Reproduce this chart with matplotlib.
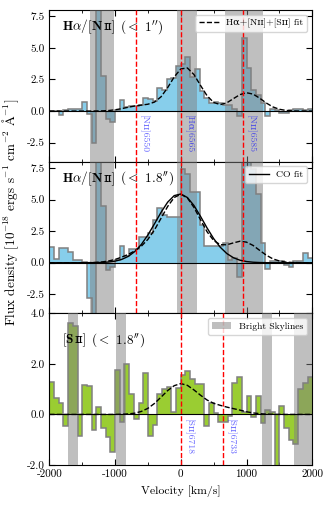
import numpy as np
import matplotlib
matplotlib.use("Agg")
import matplotlib.pyplot as plt
from matplotlib.ticker import MultipleLocator, FormatStrFormatter
from matplotlib.patches import Patch
from matplotlib.lines import Line2D

plt.rcParams['font.family'] = ['cmr10', 'DejaVu Serif', 'DejaVu Sans']
plt.rcParams['mathtext.fontset'] = 'cm'
plt.rcParams['axes.unicode_minus'] = False
plt.rcParams['axes.formatter.use_mathtext'] = True

# ---------------- data ----------------
vel_range = (-2000, 2000)
n_bins = 56

halpha_1arc = [0.02, 0.0, -0.32, 0.05, 0.2, 0.2, 0.15, 0.75, -0.25, -2.54,
               9.0, 2.8, -0.6, -0.85, 0.08, 0.88, 0.35, 0.4, 0.4, 0.45,
               1.0, 0.95, 0.8, 1.8, 1.7, 2.55, 2.6, 3.55, 3.75, 4.3,
               2.7, 3.3, 1.6, 1.0, 0.6, 0.75, 0.6, 0.5, 0.45, 0.15,
               -0.4, 5.8, 3.4, 1.7, 1.3, 0.6, -0.4, 0.15, 0.05, -0.15,
               -0.15, 0.1, 0.2, 0.15, 0.05, 0.2]

halpha_18arc = [1.25, 0.3, 1.15, 1.15, 0.85, 0.2, 0.2, 0.05, -2.8, -4.5,
                9.0, 4.5, -0.6, -0.3, 0.25, 1.3, 0.5, 1.05, 1.05, 2.0,
                2.05, 2.35, 3.4, 4.3, 3.8, 3.6, 3.6, 3.6, 7.4, 7.0,
                5.56, 5.56, 3.0, 1.3, 1.3, 1.3, 1.3, 1.57, 0.2, 0.4,
                -1.1, 9.0, 9.0, 7.4, 5.4, 1.6, -0.48, 0.1, 0.1, 0.1,
                -0.2, -0.3, 0.15, 0.15, 0.75, 0.4]

sii_18arc = [1.3, 0.65, 0.45, -0.45, 3.6, 3.5, -0.87, 1.15, 1.13, -0.63,
             0.3, -0.54, -0.9, -1.47, 1.75, -0.3, 2.0, 0.82, -0.17, 0.45,
             1.65, -0.87, -0.42, 0.8, 1.0, 1.1, 0.1, 1.05, 1.55, 1.71,
             1.4, 1.21, 1.2, -0.45, 0.45, 0.05, -0.3, -0.28, -0.05, 1.25,
             1.47, 0.08, 0.74, -0.1, 0.74, -0.32, 0.19, 0.1, -2.5, 0.35,
             -0.54, -1.0, -1.17, 1.0, 1.25, 1.5]

# fit curves sampled every 100 km/s from -2000 to 2000
fit_step = 100
fit_1arc = [0, 0, 0, 0, 0, 0, 0.001, 0.004, 0.015, 0.04,
            0.10, 0.19, 0.30, 0.40, 0.47, 0.54, 0.71, 1.13, 1.85, 2.70,
            3.33, 3.41, 2.89, 2.03, 1.21, 0.68, 0.51, 0.65, 0.98, 1.30,
            1.45, 1.34, 1.02, 0.64, 0.33, 0.14, 0.05, 0.015, 0.003, 0, 0]
fit_18arc = [0, 0, 0, 0, 0, 0.002, 0.008, 0.025, 0.063, 0.137,
             0.26, 0.44, 0.66, 0.94, 1.31, 1.85, 2.60, 3.52, 4.45, 5.16,
             5.42, 5.13, 4.38, 3.40, 2.45, 1.76, 1.43, 1.42, 1.57, 1.70,
             1.63, 1.37, 0.98, 0.60, 0.31, 0.14, 0.05, 0.017, 0.005, 0.001, 0]
co_fit_18arc = [0, 0, 0, 0, 0, 0.001, 0.003, 0.009, 0.023, 0.056,
                0.126, 0.261, 0.50, 0.886, 1.45, 2.20, 3.08, 3.99, 4.79, 5.31,
                5.44, 5.16, 4.53, 3.67, 2.75, 1.91, 1.23, 0.73, 0.40, 0.20,
                0.095, 0.041, 0.017, 0.006, 0.002, 0, 0, 0, 0, 0, 0]
fit_sii = [0, 0, 0, 0, 0, 0, 0, 0, 0, 0,
           0.002, 0.006, 0.019, 0.050, 0.118, 0.242, 0.435, 0.685, 0.943, 1.137,
           1.22, 1.15, 0.97, 0.76, 0.57, 0.44, 0.36, 0.29, 0.23, 0.17,
           0.105, 0.060, 0.030, 0.013, 0.005, 0.002, 0, 0, 0, 0, 0]

SC = '\u026a\u026a'  # small-capital "II"

# emission line velocities (km/s)
ha_lines = [-674, 0, 944]
ha_line_labels = ['[N' + SC + ']6550', '[H\u03b1]6565', '[N' + SC + ']6585']
sii_lines = [0, 642]
sii_line_labels = ['[S' + SC + ']6718', '[S' + SC + ']6733']

# bright skyline ranges (km/s)
sky_ha = [(-1381, -1012), (-62, 242), (677, 1258)]
sky_sii = [(-1711, -1559), (-990, -838), (1230, 1382), (1726, 2100)]

# panel titles (pieces: mathtext / plain / mathtext)
title_1 = [r'$\mathbf{H\alpha}$/[$\mathbf{N}$', SC + ']', r' ($<$ 1$^{\prime\prime}$)']
title_2 = [r'$\mathbf{H\alpha}$/[$\mathbf{N}$', SC + ']', r' ($<$ 1.8$^{\prime\prime}$)']
title_3 = [r'[$\mathbf{S}$', SC + ']', r' ($<$ 1.8$^{\prime\prime}$)']

# ---------------- figure ----------------
edges = np.linspace(vel_range[0], vel_range[1], n_bins + 1)
fit_v = np.arange(vel_range[0], vel_range[1] + 1, fit_step)

fig = plt.figure(figsize=(3.29, 5.17), dpi=100)
left, width = 0.150, 0.799
h = 0.2934
bottoms = [0.6874, 0.3940, 0.1006]
axes = [fig.add_axes([left, b, width, h]) for b in bottoms]
renderer = fig.canvas.get_renderer()

def base(ax, ylim, major):
    ax.set_xlim(*vel_range)
    ax.set_ylim(*ylim)
    ax.xaxis.set_major_locator(MultipleLocator(1000))
    ax.xaxis.set_minor_locator(MultipleLocator(500))
    ax.yaxis.set_major_locator(MultipleLocator(major))
    ax.yaxis.set_major_formatter(FormatStrFormatter('%.1f'))
    ax.xaxis.set_major_formatter(FormatStrFormatter('%d'))
    ax.tick_params(which='both', direction='in', top=True, right=True, labelsize=8)
    ax.tick_params(which='major', length=4)
    ax.tick_params(which='minor', length=2)
    for s in ax.spines.values():
        s.set_linewidth(0.8)

def hist(ax, vals, fc):
    ax.stairs(vals, edges, fill=True, color=fc, zorder=1, lw=0)
    ax.stairs(vals, edges, baseline=None, color='gray', lw=1.1, zorder=2)

def bands(ax, ranges):
    for a, b in ranges:
        ax.axvspan(a, b, color='gray', alpha=0.5, lw=0, zorder=3)

def lines(ax, vs, labels):
    for v, lab in zip(vs, labels):
        ax.axvline(v, color='red', ls='--', lw=1.0, zorder=6)
        if lab:
            ax.annotate(lab, xy=(v, 0), xytext=(2, -3), textcoords='offset points',
                        rotation=270, ha='left', va='top', color='blue', alpha=0.6,
                        fontsize=7, zorder=7)

def title(ax, y, pieces, fs=9.5):
    x = 0.05
    inv = ax.transAxes.inverted()
    for p in pieces:
        t = ax.text(x, y, p, transform=ax.transAxes, fontsize=fs,
                    va='baseline', ha='left', zorder=8)
        bb = t.get_window_extent(renderer=renderer)
        x = inv.transform((bb.x1, bb.y0))[0]

# panel 1
ax = axes[0]
base(ax, (-4, 8), 2.5)
hist(ax, halpha_1arc, 'skyblue')
bands(ax, sky_ha)
ax.axhline(0, color='k', lw=0.8, zorder=4)
ax.plot(fit_v, fit_1arc, color='k', ls='--', lw=1.0, zorder=5)
lines(ax, ha_lines, ha_line_labels)
title(ax, 0.865, title_1)
leg = ax.legend(handles=[Line2D([], [], color='k', ls='--', lw=1.0)],
                labels=['H\u03b1+[N' + SC + ']+[S' + SC + '] fit'],
                loc='upper right', fontsize=7)
leg.set_zorder(10)
ax.tick_params(labelbottom=False)

# panel 2
ax = axes[1]
base(ax, (-4, 8), 2.5)
hist(ax, halpha_18arc, 'skyblue')
bands(ax, sky_ha)
ax.axhline(0, color='k', lw=0.8, zorder=4)
ax.plot(fit_v, fit_18arc, color='k', ls='--', lw=1.0, zorder=5)
ax.plot(fit_v, co_fit_18arc, color='k', ls='-', lw=1.0, zorder=5)
lines(ax, ha_lines, [''] * 3)
title(ax, 0.865, title_2)
leg = ax.legend(handles=[Line2D([], [], color='k', ls='-', lw=1.0)],
                labels=['CO fit'], loc='upper right', fontsize=7)
leg.set_zorder(10)
ax.tick_params(labelbottom=False)

# panel 3
ax = axes[2]
base(ax, (-2, 4), 2.0)
hist(ax, sii_18arc, 'yellowgreen')
bands(ax, sky_sii)
ax.axhline(0, color='k', lw=0.8, zorder=4)
ax.plot(fit_v, fit_sii, color='k', ls='--', lw=1.0, zorder=5)
lines(ax, sii_lines, sii_line_labels)
title(ax, 0.8, title_3)
leg = ax.legend(handles=[Patch(color='gray', alpha=0.5, lw=0)],
                labels=['Bright Skylines'], loc='upper right', fontsize=7)
leg.set_zorder(10)
ax.set_xlabel('Velocity [km/s]', fontsize=8.5)

fig.text(0.034, 0.59,
         r'Flux density [10$^{-18}$ ergs s$^{-1}$ cm$^{-2}$ $\mathrm{\AA}^{-1}$]',
         rotation=90, ha='center', va='center', fontsize=9.5)

fig.savefig('out.png', dpi=100)
